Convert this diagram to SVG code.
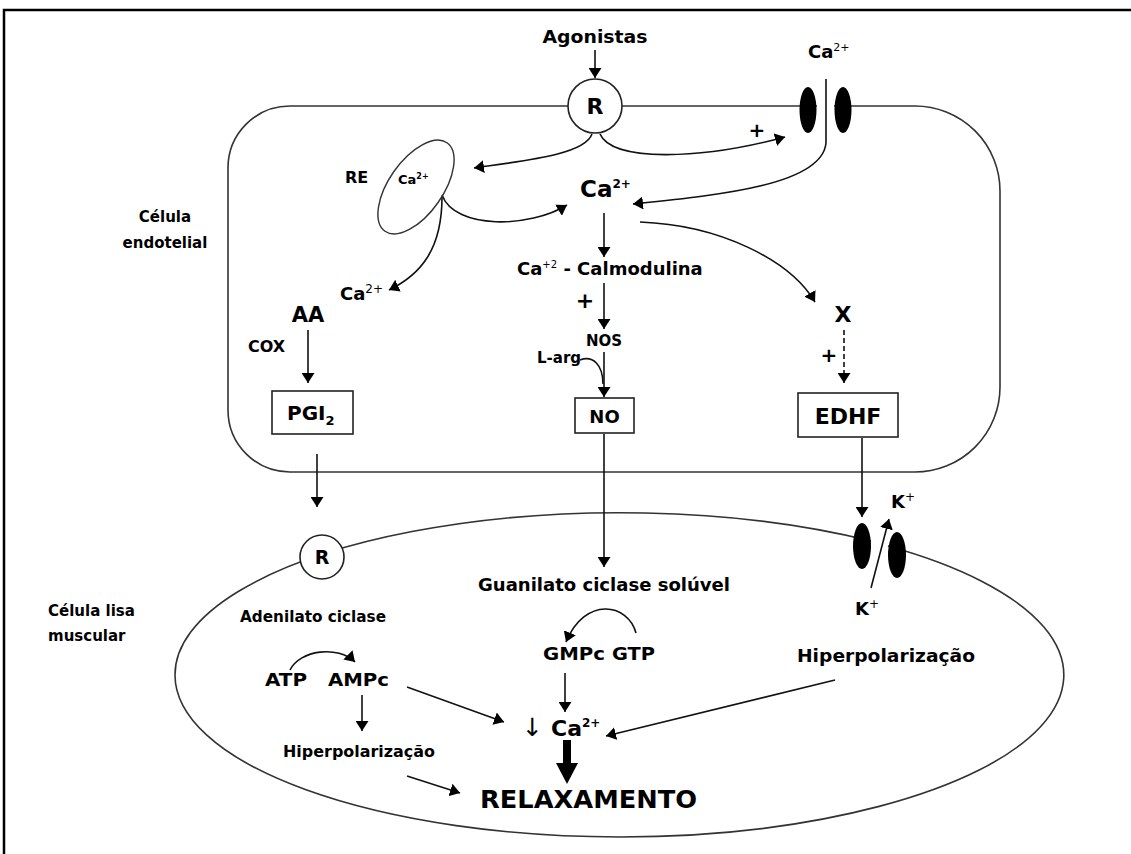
<svg xmlns="http://www.w3.org/2000/svg" width="1131" height="854" viewBox="0 0 1131 854">
<style>
.t{font-family:"DejaVu Sans","Liberation Sans",sans-serif;font-weight:bold;fill:#000}
.n{font-weight:normal}
.mem{fill:none;stroke:#333;stroke-width:1.6}
.box{fill:#fff;stroke:#222;stroke-width:1.6}
.ar{fill:none;stroke:#111;stroke-width:1.6;marker-end:url(#ah)}
.ch{fill:#000}
</style>
<defs>
<marker id="ah" viewBox="0 0 10 13" refX="10" refY="6.5" markerWidth="10" markerHeight="13" markerUnits="userSpaceOnUse" orient="auto"><path d="M0,0 L10,6.5 L0,13 z" fill="#000"/></marker>
</defs>
<rect x="4" y="10" width="1200" height="900" fill="#fff" stroke="#000" stroke-width="2.5"/>

<g id="endothelial-cell">
<path class="mem" d="M834,106 L915,106 A85,85 0 0 1 1000,191 L1000,387 A85,85 0 0 1 915,472 L290,472 A62,62 0 0 1 228,410 L228,168 A62,62 0 0 1 290,106 L817,106"/>
<text class="t" x="165" y="222" font-size="15" text-anchor="middle">Célula</text>
<text class="t" x="165" y="248" font-size="15" text-anchor="middle">endotelial</text>
</g>

<g id="smooth-muscle-cell">
<path class="mem" d="M888,546 A445,162 0 0 1 620,837 A445,162 0 0 1 175,675 A445,162 0 0 1 871,541"/>
<text class="t" x="48" y="616" font-size="15">Célula lisa</text>
<text class="t" x="48" y="641" font-size="15">muscular</text>
</g>

<g id="connectors">
<line class="ar" x1="595" y1="50" x2="595" y2="78"/>
<path class="ar" d="M592,134 C585,154 530,160 474,168"/>
<path class="ar" d="M600,134 C612,162 700,160 785,137"/>
<path class="ar" d="M826,79 L826,143 C822,185 720,195 633,204"/>
<path class="ar" d="M442,195 C455,230 530,228 567,205"/>
<path class="ar" d="M442,197 C442,250 420,275 389,290"/>
<path class="ar" d="M640,222 C720,225 790,260 815,302"/>
<line class="ar" x1="604" y1="213" x2="604" y2="257"/>
<line class="ar" x1="604" y1="283" x2="604" y2="329"/>
<line class="ar" x1="604" y1="352" x2="604" y2="397"/>
<path fill="none" stroke="#111" stroke-width="1.6" d="M580,360 C593,355 603,365 603,384"/>
<line class="ar" x1="308" y1="330" x2="308" y2="383"/>
<line class="ar" x1="844" y1="330" x2="844" y2="383" stroke-dasharray="5,3"/>
<line class="ar" x1="317" y1="454" x2="317" y2="507"/>
<line class="ar" x1="604" y1="434" x2="604" y2="567"/>
<line class="ar" x1="862" y1="438" x2="862" y2="517"/>
<line class="ar" x1="871" y1="588" x2="889" y2="519"/>
<path class="ar" d="M636,633 C628,603 585,596 566,642"/>
<path class="ar" d="M290,670 C300,650 338,645 355,662"/>
<line class="ar" x1="565" y1="673" x2="565" y2="712"/>
<line class="ar" x1="407" y1="687" x2="504" y2="722"/>
<line class="ar" x1="362" y1="695" x2="362" y2="731"/>
<line class="ar" x1="407" y1="776" x2="460" y2="793"/>
<line class="ar" x1="835" y1="680" x2="606" y2="736"/>
<line x1="567" y1="740" x2="567" y2="766" stroke="#000" stroke-width="8"/>
<path d="M556,763 L578,763 L567,784 z" fill="#000"/>
</g>

<g id="agonistas"><text class="t" x="595" y="43" font-size="17" text-anchor="middle" textLength="105" lengthAdjust="spacingAndGlyphs">Agonistas</text></g>
<g id="receptor-endo">
<circle cx="595" cy="106" r="27" fill="#fff" stroke="#222" stroke-width="1.6"/>
<text class="t" x="595" y="114" font-size="22" text-anchor="middle">R</text>
</g>
<g id="ca-channel">
<ellipse class="ch" cx="808" cy="110" rx="8.5" ry="23"/>
<ellipse class="ch" cx="843" cy="110" rx="8.5" ry="23"/>
<text class="t" x="808" y="58" font-size="18">Ca<tspan class="n" font-size="11" dy="-7">2+</tspan></text>
</g>
<g id="plus-channel"><text class="t" x="757" y="137" font-size="20" text-anchor="middle">+</text></g>
<g id="re">
<ellipse cx="416" cy="187" rx="54" ry="27" fill="none" stroke="#333" stroke-width="1.4" transform="rotate(-55 416 187)"/>
<text class="t" x="345" y="183" font-size="16">RE</text>
<text class="t" x="398" y="184" font-size="13">Ca<tspan font-size="8" dy="-5">2+</tspan></text>
</g>
<g id="ca-cyto"><text class="t" x="580" y="197" font-size="23">Ca<tspan font-size="12" dy="-9">2+</tspan></text></g>
<g id="calmodulina"><text class="t" x="517" y="275" font-size="18">Ca<tspan class="n" font-size="10" dy="-7">+2</tspan><tspan dy="7"> - Calmodulina</tspan></text></g>
<g id="plus-nos"><text class="t" x="585" y="308" font-size="22" text-anchor="middle">+</text></g>
<g id="nos"><text class="t" x="604" y="346" font-size="15" text-anchor="middle">NOS</text></g>
<g id="larg"><text class="t" x="537" y="363" font-size="15">L-arg</text></g>
<g id="no"><rect class="box" x="575" y="398" width="59" height="35"/><text class="t" x="604.5" y="423" font-size="18" text-anchor="middle">NO</text></g>
<g id="ca-aa"><text class="t" x="340" y="300" font-size="18">Ca<tspan class="n" font-size="12" dy="-7">2+</tspan></text></g>
<g id="aa"><text class="t" x="308" y="322" font-size="21" text-anchor="middle">AA</text></g>
<g id="cox"><text class="t" x="248" y="352" font-size="16">COX</text></g>
<g id="pgi2"><rect class="box" x="272" y="391" width="81" height="43"/><text class="t" x="287" y="420" font-size="20">PGI<tspan font-size="13" dy="5">2</tspan></text></g>
<g id="x"><text class="t" x="843" y="322" font-size="22" text-anchor="middle">X</text></g>
<g id="plus-x"><text class="t" x="829" y="362" font-size="20" text-anchor="middle">+</text></g>
<g id="edhf"><rect class="box" x="798" y="393" width="100" height="44"/><text class="t" x="848" y="424" font-size="22" text-anchor="middle">EDHF</text></g>
<g id="receptor-smc">
<circle cx="322" cy="557" r="22" fill="#fff" stroke="#222" stroke-width="1.6"/>
<text class="t" x="322" y="564" font-size="19" text-anchor="middle">R</text>
</g>
<g id="k-channel">
<ellipse class="ch" cx="862" cy="546" rx="9" ry="23"/>
<ellipse class="ch" cx="897" cy="555" rx="9" ry="23"/>
<text class="t" x="891" y="508" font-size="18">K<tspan class="n" font-size="12" dy="-7">+</tspan></text>
<text class="t" x="855" y="615" font-size="18">K<tspan class="n" font-size="12" dy="-7">+</tspan></text>
</g>
<g id="guanilato"><text class="t" x="478" y="591" font-size="17" textLength="252" lengthAdjust="spacingAndGlyphs">Guanilato ciclase solúvel</text></g>
<g id="gmpc"><text class="t" x="543" y="660" font-size="17" textLength="62" lengthAdjust="spacingAndGlyphs">GMPc</text></g>
<g id="gtp"><text class="t" x="612" y="660" font-size="17" textLength="43" lengthAdjust="spacingAndGlyphs">GTP</text></g>
<g id="adenilato"><text class="t" x="240" y="622" font-size="16" textLength="146" lengthAdjust="spacingAndGlyphs">Adenilato ciclase</text></g>
<g id="atp"><text class="t" x="265" y="686" font-size="17" textLength="42" lengthAdjust="spacingAndGlyphs">ATP</text></g>
<g id="ampc"><text class="t" x="328" y="686" font-size="17" textLength="61" lengthAdjust="spacingAndGlyphs">AMPc</text></g>
<g id="hiper-left"><text class="t" x="283" y="757" font-size="16" textLength="152" lengthAdjust="spacingAndGlyphs">Hiperpolarização</text></g>
<g id="hiper-right"><text class="t" x="797" y="662" font-size="17" textLength="178" lengthAdjust="spacingAndGlyphs">Hiperpolarização</text></g>
<g id="ca-down">
<text class="t n" x="522" y="736" font-size="25">↓</text>
<text class="t" x="551" y="736" font-size="22">Ca<tspan font-size="12" dy="-9">2+</tspan></text>
</g>
<g id="relaxamento"><text class="t" x="480" y="808" font-size="25" textLength="217" lengthAdjust="spacingAndGlyphs">RELAXAMENTO</text></g>
</svg>
